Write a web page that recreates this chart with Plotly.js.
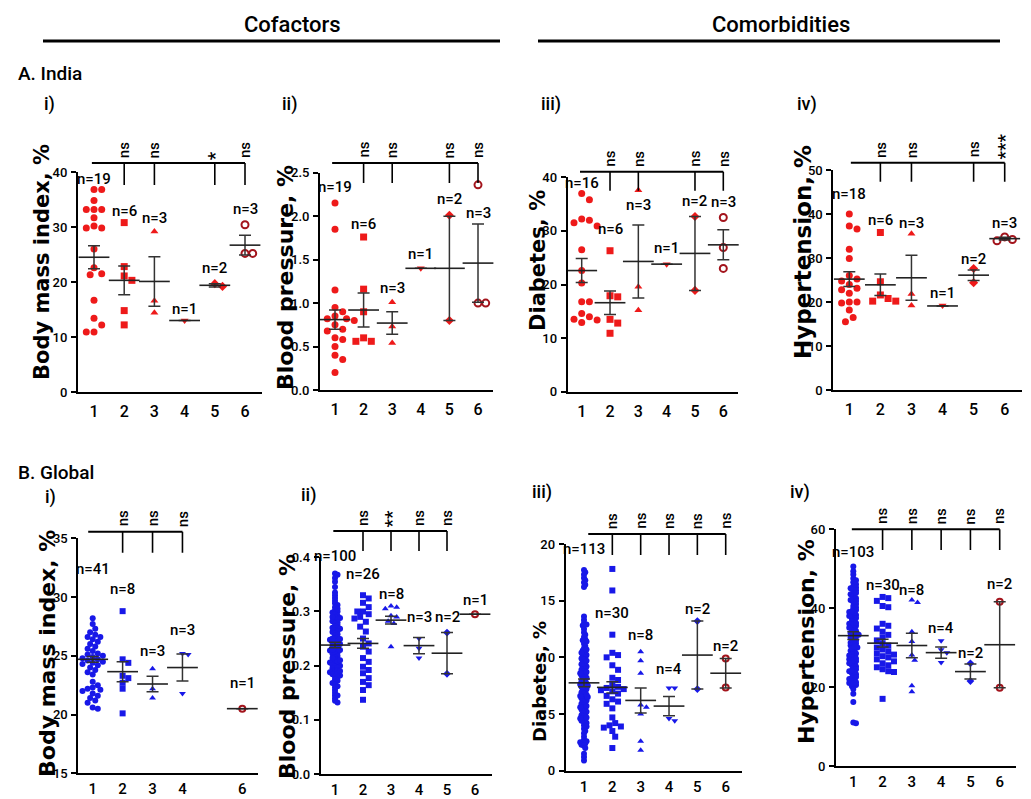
<!DOCTYPE html>
<html><head><meta charset="utf-8">
<script src="https://cdn.plot.ly/plotly-3.0.1.min.js"></script>
<style>html,body{margin:0;padding:0;background:#fff;} #chart{width:1031px;height:799px;}</style>
</head><body><div id="chart"></div>
<script>
// ===================== DATA =====================
const groupNames = ['1', '2', '3', '4', '5', '6'];

// ---- A. India : Body mass index, % ----
const indiaBmiValues = [
  [36.8, 36.8, 34.8, 33.2, 33.2, 33.2, 31.7, 30.2, 29.8, 29.8, 26.0, 22.6, 21.5, 21.3, 16.7, 13.4, 12.2, 10.9, 10.9],
  [30.8, 22.8, 21.1, 20.3, 14.8, 12.2],
  [29.2, 16.6, 14.4],
  [13.0],
  [19.2, 19.7],
  [30.4, 25.2, 25.2]
];
const indiaBmiMean = [24.5, 20.3, 20.1, 13.0, 19.4, 26.7];
const indiaBmiSem  = [2.1, 2.6, 4.5, 0, 0.3, 1.8];
const indiaBmiSig  = ['', 'ns', 'ns', '', '*', 'ns'];

// ---- A. India : Blood pressure, % ----
const indiaBpValues = [
  [2.15, 1.85, 1.15, 0.95, 0.90, 0.85, 0.82, 0.82, 0.80, 0.80, 0.75, 0.70, 0.68, 0.60, 0.58, 0.50, 0.40, 0.35, 0.20],
  [1.76, 1.16, 0.90, 0.60, 0.56, 0.56],
  [1.01, 0.73, 0.54],
  [1.40],
  [2.01, 0.80],
  [2.36, 1.00, 1.00]
];
const indiaBpMean = [0.81, 0.92, 0.77, 1.40, 1.40, 1.46];
const indiaBpSem  = [0.11, 0.195, 0.13, 0, 0.60, 0.45];
const indiaBpSig  = ['', 'ns', 'ns', '', 'ns', 'ns'];

// ---- A. India : Diabetes, % ----
const indiaDmValues = [
  [37.0, 35.8, 32.2, 32.0, 31.5, 30.9, 26.5, 22.6, 20.3, 16.8, 16.8, 14.6, 14.0, 13.5, 13.4, 12.9],
  [26.3, 17.9, 17.7, 13.5, 12.8, 10.9],
  [37.6, 19.6, 15.2],
  [23.8],
  [32.7, 18.9],
  [32.5, 26.9, 23.0]
];
const indiaDmMean = [22.6, 16.6, 24.3, 23.8, 25.8, 27.4];
const indiaDmSem  = [2.25, 2.2, 6.8, 0, 6.9, 2.8];
const indiaDmSig  = ['', 'ns', 'ns', '', 'ns', 'ns'];

// ---- A. India : Hypertension, % ----
const indiaHtValues = [
  [40.0, 37.3, 36.6, 32.0, 29.9, 26.0, 25.2, 24.8, 24.0, 23.1, 22.8, 22.0, 20.0, 20.0, 19.8, 18.2, 16.5, 15.5],
  [35.8, 24.6, 21.6, 20.8, 20.2, 20.2],
  [35.5, 21.8, 19.2],
  [19.2],
  [27.6, 24.4],
  [34.8, 33.9, 34.2]
];
const indiaHtMean = [25.2, 23.9, 25.5, 19.1, 26.1, 34.4];
const indiaHtSem  = [1.7, 2.45, 5.1, 0, 1.2, 0.3];
const indiaHtSig  = ['', 'ns', 'ns', '', 'ns', '***'];

// ---- B. Global : Body mass index, % ----
const globalBmiValues = [
  [28.2, 27.7, 27.3, 27.0, 26.8, 26.6, 26.6, 26.4, 26.2, 26.0, 25.8, 25.6, 25.4, 25.2, 25.1, 25.0, 24.9, 24.8, 24.7, 24.6, 24.5,
   24.4, 24.3, 24.2, 24.0, 23.8, 23.6, 23.4, 22.8, 22.5, 22.3, 22.2, 22.1, 22.0, 21.8, 21.6, 21.4, 21.2, 21.0, 20.6, 20.5],
  [28.8, 24.7, 24.4, 23.3, 23.1, 22.7, 22.2, 20.1],
  [23.9, 22.2, 21.4],
  [25.2, 25.1, 21.8],
  [],
  [20.5]
];
const globalBmiMean = [24.7, 23.65, 22.6, 24.0, null, 20.5];
const globalBmiSem  = [0.25, 0.85, 0.65, 1.15, null, 0];
const globalBmiSig  = ['', 'ns', 'ns', 'ns', '', ''];

// ---- B. Global : Blood pressure, % ----
const globalBpValues = [
  [0.370, 0.368, 0.362, 0.355, 0.345, 0.335, 0.330, 0.325, 0.320, 0.315,
   0.312, 0.308, 0.305, 0.302, 0.300, 0.298, 0.295, 0.292, 0.290, 0.288,
   0.286, 0.284, 0.282, 0.280, 0.278, 0.275, 0.272, 0.270, 0.268, 0.266,
   0.264, 0.262, 0.260, 0.258, 0.255, 0.252, 0.250, 0.248, 0.246, 0.244,
   0.242, 0.240, 0.241, 0.249, 0.238, 0.235, 0.232, 0.230, 0.228, 0.226,
   0.224, 0.222, 0.220, 0.236, 0.229, 0.218, 0.215, 0.212, 0.210, 0.208,
   0.206, 0.204, 0.202, 0.200, 0.214, 0.207, 0.201, 0.198, 0.195, 0.192,
   0.190, 0.188, 0.186, 0.184, 0.182, 0.180, 0.196, 0.191, 0.185, 0.178,
   0.175, 0.172, 0.170, 0.168, 0.165, 0.162, 0.160, 0.155, 0.150, 0.145,
   0.145, 0.140, 0.135, 0.132, 0.290, 0.270, 0.250, 0.230, 0.210, 0.190],
  [0.330, 0.324, 0.316, 0.308, 0.300, 0.300, 0.295, 0.290, 0.287, 0.281, 0.272, 0.263, 0.250,
   0.241, 0.235, 0.226, 0.214, 0.207, 0.198, 0.192, 0.186, 0.177, 0.170, 0.164, 0.155, 0.137],
  [0.310, 0.308, 0.305, 0.292, 0.290, 0.282, 0.278, 0.235],
  [0.250, 0.232, 0.214],
  [0.261, 0.185],
  [0.295]
];
const globalBpMean = [0.238, 0.241, 0.284, 0.237, 0.223, 0.295];
const globalBpSem  = [0.005, 0.009, 0.007, 0.015, 0.038, 0];
const globalBpSig  = ['', 'ns', '**', 'ns', 'ns', ''];

// ---- B. Global : Diabetes, % ----
const globalDmValues = [
  [17.7, 17.5, 17.3, 17.0, 16.8, 16.6, 16.4, 16.2,
   13.6, 13.3, 13.0, 12.8, 12.5, 12.9,
   12.2, 12.0, 11.8, 11.6, 11.4, 11.2, 11.0, 11.5,
   10.8, 10.6, 10.5, 10.3, 10.2, 10.0, 10.1, 10.4, 10.7,
   9.9, 9.8, 9.6, 9.5, 9.3, 9.2, 9.0, 9.1, 9.4, 9.7,
   8.9, 8.8, 8.6, 8.5, 8.3, 8.2, 8.0, 8.4, 8.7, 8.1, 8.6,
   7.9, 7.8, 7.6, 7.5, 7.3, 7.2, 7.0, 7.4, 7.7, 7.1, 7.5, 7.6,
   6.9, 6.8, 6.6, 6.5, 6.3, 6.2, 6.0, 6.4, 6.7, 6.1, 6.5, 6.6,
   5.9, 5.8, 5.6, 5.5, 5.3, 5.2, 5.0, 5.4, 5.7, 5.1, 5.6,
   4.9, 4.8, 4.6, 4.5, 4.3, 4.2, 4.0, 4.4, 4.7, 4.6,
   3.9, 3.7, 3.5, 3.3, 3.0,
   2.7, 2.6, 2.5, 2.5, 2.4, 2.3, 2.2, 2.0,
   1.5, 1.2, 0.9],
  [17.8, 15.9, 12.0, 10.4, 10.2, 10.0, 9.3, 8.9, 8.2, 8.0, 7.6, 7.4, 7.3, 7.2, 7.1,
   7.0, 6.8, 6.6, 6.3, 6.1, 5.9, 5.5, 4.7, 4.2, 4.0, 3.9, 3.8, 3.5, 3.0, 2.0],
  [10.5, 9.7, 8.6, 5.8, 5.6, 5.0, 2.6, 1.8],
  [7.3, 7.3, 4.6, 4.4],
  [13.2, 7.2],
  [9.9, 7.35]
];
const globalDmMean = [7.75, 7.35, 6.2, 5.7, 10.2, 8.6];
const globalDmSem  = [0.35, 0.5, 1.1, 0.85, 3.0, 1.3];
const globalDmSig  = ['', 'ns', 'ns', 'ns', 'ns', 'ns'];

// ---- B. Global : Hypertension, % ----
const globalHtValues = [
  [50.5, 49.3, 48.5, 47.5, 47.0,
   46.5, 46.0, 45.5, 45.2, 44.8, 44.5, 44.0, 45.0,
   43.5, 43.0, 42.5, 42.2, 41.8, 41.5, 41.0, 40.5, 40.2, 43.8, 42.0,
   39.8, 39.5, 39.0, 38.5, 38.2, 37.8, 37.5, 37.2, 38.8, 39.2, 38.0,
   36.8, 36.5, 36.0, 35.5, 35.2, 34.8, 34.5, 34.2, 35.8, 36.2, 35.0,
   33.8, 33.5, 33.0, 32.5, 32.2, 31.8, 31.5, 31.2, 32.8, 33.2, 33.6, 31.0,
   30.8, 30.5, 30.0, 29.5, 29.2, 28.8, 28.5, 28.2, 29.8, 30.2, 28.0,
   27.8, 27.5, 27.0, 26.5, 26.2, 25.8, 25.5, 25.2, 26.8, 27.2, 26.0,
   24.8, 24.5, 24.0, 23.5, 23.2, 22.8, 22.5, 22.2, 23.8, 24.2, 22.0,
   21.8, 21.5, 21.0, 20.5, 20.2, 19.5, 20.8, 21.2,
   18.3, 16.2, 11.0, 10.8],
  [42.8, 42.5, 41.8, 40.5, 40.2, 36.0, 35.5, 34.8, 34.0, 33.2, 32.5, 31.8, 31.0, 30.5, 30.0,
   29.5, 29.0, 28.5, 28.2, 27.8, 27.5, 27.0, 26.5, 26.0, 25.5, 25.0, 24.5, 24.0, 23.8, 17.0],
  [42.0, 41.4, 34.0, 31.5, 28.1, 26.8, 20.3, 18.8],
  [31.7, 29.4, 28.7, 26.2],
  [26.0, 21.5],
  [41.6, 19.8]
];
const globalHtMean = [33.0, 31.1, 30.5, 28.7, 23.9, 30.7];
const globalHtSem  = [1.0, 1.0, 3.1, 1.4, 1.9, 10.9];
const globalHtSig  = ['', 'ns', 'ns', 'ns', 'ns', 'ns'];

// ===================== LAYOUT SPEC (positions in px of the 1031x799 page) =====================
const W = 1031, H = 799;
const LABEL = "Roboto, 'Liberation Sans', sans-serif";
const HEAVY = "'DejaVu Sans', sans-serif";
const RED = '#ee1a1a', BLUE = '#1818e8', DARKRED = '#a3141c';

const panels = [
  {vals: indiaBmiValues, mean: indiaBmiMean, sem: indiaBmiSem, sig: indiaBmiSig, title: 'Body mass index, %', color: RED, ms: 7, spread: 1.1, dense: 1.1,
   y0: 0, y1: 40, dt: 10, fmt: 'd', L: 78, R: 262, T: 172, B: 392, c1: 94, c6: 245,
   brTop: 163, brBot: 185, brFrom: 0.93, tX: 42, tY: 262, tS: 21, nY: [38.8, 33.0, 31.7, 15.0, 22.5, 33.2]},
  {vals: indiaBpValues, mean: indiaBpMean, sem: indiaBpSem, sig: indiaBpSig, title: 'Blood pressure, %', color: RED, ms: 7, spread: 1.1, dense: 1.1,
   y0: 0, y1: 2.5, dt: 0.5, fmt: '.1f', L: 320, R: 493, T: 172.7, B: 390, c1: 335, c6: 478,
   brTop: 163, brBot: 183, brFrom: 0.9, tX: 285, tY: 278, tS: 22, nY: [2.34, 1.91, 1.17, 1.56, 2.20, 2.04]},
  {vals: indiaDmValues, mean: indiaDmMean, sem: indiaDmSem, sig: indiaDmSig, title: 'Diabetes, %', color: RED, ms: 7, spread: 1.1, dense: 1.1,
   y0: 0, y1: 40, dt: 10, fmt: 'd', L: 567.7, R: 738, T: 177.3, B: 391.7, c1: 581.7, c6: 723.3,
   brTop: 171.7, brBot: 190.7, brFrom: 0.94, tX: 538, tY: 261, tS: 21, nY: [38.9, 30.4, 34.8, 26.8, 35.5, 35.3]},
  {vals: indiaHtValues, mean: indiaHtMean, sem: indiaHtSem, sig: indiaHtSig, title: 'Hypertension, %', color: RED, ms: 7, spread: 1.1, dense: 1.1,
   y0: 0, y1: 50, dt: 10, fmt: 'd', L: 833.3, R: 1021.7, T: 170, B: 390, c1: 849.3, c6: 1004.7,
   brTop: 162.7, brBot: 181.7, brFrom: 1.05, tX: 803, tY: 252, tS: 23, nY: [44.5, 38.6, 37.9, 22.0, 29.7, 37.9]},
  {vals: globalBmiValues, mean: globalBmiMean, sem: globalBmiSem, sig: globalBmiSig, title: 'Body mass index, %', color: BLUE, ms: 6, spread: 0.95, dense: 0.85,
   y0: 15, y1: 35, dt: 5, fmt: 'd', L: 78.3, R: 258, T: 538.3, B: 773.3, c1: 92.7, c6: 242.3,
   brTop: 531.7, brBot: 552.7, brFrom: 0.85, tX: 47, tY: 654, tS: 22, nY: [32.4, 30.7, 25.4, 27.2, null, 22.7]},
  {vals: globalBpValues, mean: globalBpMean, sem: globalBpSem, sig: globalBpSig, title: 'Blood pressure, %', color: BLUE, ms: 6, spread: 0.95, dense: 0.42,
   y0: 0, y1: 0.4, dt: 0.1, fmt: '.1f', L: 320.7, R: 491.7, T: 557.3, B: 774, c1: 335, c6: 475,
   brTop: 531, brBot: 551, brFrom: 0.94, tX: 287, tY: 667, tS: 22, nY: [0.402, 0.369, 0.332, 0.29, 0.29, 0.321]},
  {vals: globalDmValues, mean: globalDmMean, sem: globalDmSem, sig: globalDmSig, title: 'Diabetes, %', color: BLUE, ms: 6, spread: 0.95, dense: 0.42,
   y0: 0, y1: 20, dt: 5, fmt: 'd', L: 565.7, R: 741.7, T: 544, B: 770.7, c1: 584, c6: 725.7,
   brTop: 534, brBot: 555, brFrom: 1.15, tX: 539, tY: 682, tS: 18, nY: [19.6, 13.9, 12.0, 9.0, 14.3, 11.0]},
  {vals: globalHtValues, mean: globalHtMean, sem: globalHtSem, sig: globalHtSig, title: 'Hypertension, %', color: BLUE, ms: 6, spread: 0.95, dense: 0.45,
   y0: 0, y1: 60, dt: 20, fmt: 'd', L: 836, R: 1016, T: 529, B: 766, c1: 853.3, c6: 999.7,
   brTop: 529.3, brBot: 550, brFrom: 0.95, tX: 806, tY: 642, tS: 22, nY: [54.3, 45.8, 44.6, 34.9, 28.7, 46.2]}
];

const symbols = ['circle', 'square', 'triangle-up', 'triangle-down', 'diamond', 'circle-open'];

function px2x(p) { return p / W; }
function px2y(p) { return 1 - p / H; }

// simple beeswarm: horizontal offsets so that markers do not overlap too much
function swarmOffsets(vals, pxPerY, pxPerX, dist) {
  const idx = vals.map((_, i) => i).sort((a, b) => vals[b] - vals[a]);
  const placed = [];
  const off = new Array(vals.length).fill(0);
  const step = dist / 2;
  idx.forEach(i => {
    const py = vals[i] * pxPerY;
    for (let k = 0; k < 400; k++) {
      const m = Math.ceil(k / 2) * (k % 2 === 1 ? 1 : -1);
      const dx = m * step;
      let ok = true;
      for (const p of placed) {
        const a = p.dx - dx, b = p.py - py;
        if (a * a + b * b < dist * dist) { ok = false; break; }
      }
      if (ok) { placed.push({dx: dx, py: py}); off[i] = dx / pxPerX; break; }
    }
  });
  return off;
}

const traces = [];
const layout = {
  width: W, height: H, margin: {l: 0, r: 0, t: 0, b: 0},
  paper_bgcolor: '#fff', plot_bgcolor: 'rgba(0,0,0,0)', showlegend: false, hovermode: false,
  annotations: [], shapes: []
};

panels.forEach((p, k) => {
  const n = k + 1;
  const xa = 'x' + (n === 1 ? '' : n), ya = 'y' + (n === 1 ? '' : n);
  const step = (p.c6 - p.c1) / 5;
  const xr = [1 - (p.c1 - p.L) / step, 6 + (p.R - p.c6) / step];
  const pxPerY = (p.B - p.T) / (p.y1 - p.y0);
  const bottomRow = k >= 4;
  const present = [];
  p.vals.forEach((v, g) => {
    if (!v.length) return;
    present.push(g + 1);
    const f = v.length > 35 ? p.dense : p.spread;
    const off = swarmOffsets(v, pxPerY, step, p.ms * f);
    const open = g === 5;
    traces.push({
      type: 'scatter', mode: 'markers', xaxis: xa, yaxis: ya, cliponaxis: false,
      x: v.map((_, i) => g + 1 + off[i]), y: v,
      marker: {
        symbol: symbols[g], size: p.ms,
        color: open ? DARKRED : p.color,
        line: {width: open ? 2 : 0, color: open ? DARKRED : p.color}
      }
    });
  });
  // mean +/- SEM
  const mx = [], my = [], ms = [];
  p.mean.forEach((m, g) => { if (m !== null) { mx.push(g + 1); my.push(m); ms.push(p.sem[g]); } });
  traces.push({
    type: 'scatter', mode: 'markers', xaxis: xa, yaxis: ya, cliponaxis: false,
    x: mx, y: my,
    marker: {symbol: 'line-ew-open', size: 22, color: '#222', line: {width: 1.6, color: '#222'}},
    error_y: {type: 'data', array: ms, visible: true, width: 6, thickness: 1.5, color: '#333'}
  });

  layout['xaxis' + (n === 1 ? '' : n)] = {
    domain: [px2x(p.L), px2x(p.R)], range: xr, anchor: ya,
    showline: true, linewidth: 2, linecolor: '#000', ticks: '', showgrid: false, zeroline: false,
    tickvals: present, ticktext: present.map(g => groupNames[g - 1]),
    tickfont: {family: LABEL, size: bottomRow ? 15 : 16, weight: 500, color: '#000'},
    ticklabelstandoff: bottomRow ? 1 : 4, fixedrange: true
  };
  layout['yaxis' + (n === 1 ? '' : n)] = {
    domain: [px2y(p.B), px2y(p.T)], range: [p.y0, p.y1], anchor: xa,
    showline: true, linewidth: 2, linecolor: '#000', ticks: 'outside', ticklen: 5, tickwidth: 2, tickcolor: '#000',
    showgrid: false, zeroline: false, tick0: p.y0, dtick: p.dt, tickformat: p.fmt,
    tickfont: {family: LABEL, size: 13, weight: 500, color: '#000'}, ticklabelstandoff: 1, fixedrange: true
  };

  // y title
  layout.annotations.push({
    xref: 'paper', yref: 'paper', x: px2x(p.tX), y: px2y(p.tY), text: p.title, textangle: -90, showarrow: false,
    xanchor: 'center', yanchor: 'middle', font: {family: HEAVY, size: p.tS, weight: 'bold', color: '#000'}
  });

  // n= labels (vertical position given in data units, converted to page position so they may sit above the axis top)
  p.vals.forEach((v, g) => {
    if (!v.length || p.nY[g] === null) return;
    const ypx = p.B - (p.nY[g] - p.y0) * pxPerY;
    layout.annotations.push({
      xref: xa, yref: 'paper', x: g + 1, y: px2y(ypx), text: 'n=' + v.length, showarrow: false,
      xanchor: 'center', yanchor: 'middle', font: {family: LABEL, size: 15, weight: 500, color: '#000'}
    });
  });

  // significance bracket
  const comp = [];
  p.sig.forEach((s, g) => { if (s) comp.push(g + 1); });
  const last = Math.max.apply(null, comp);
  layout.shapes.push({type: 'line', xref: xa, yref: 'paper', x0: p.brFrom, x1: last, y0: px2y(p.brTop), y1: px2y(p.brTop),
    line: {color: '#000', width: 2}});
  comp.forEach(g => {
    const star = p.sig[g - 1].indexOf('*') >= 0;
    layout.shapes.push({type: 'line', xref: xa, yref: 'paper', x0: g, x1: g, y0: px2y(p.brTop), y1: px2y(p.brBot),
      line: {color: '#000', width: 1.6}});
    layout.annotations.push({
      xref: xa, yref: 'paper', x: g, y: px2y(p.brTop - (star ? 1 : 3)), text: p.sig[g - 1], textangle: -90, showarrow: false,
      xanchor: 'center', yanchor: 'bottom', font: {family: LABEL, size: star ? 19 : 15, weight: 500, color: '#000'}
    });
  });
});

// headers and panel labels
const textItems = [
  {t: 'Cofactors', x: 292, y: 24, s: 22, a: 'center'},
  {t: 'Comorbidities', x: 781, y: 24, s: 22, a: 'center'},
  {t: 'A. India', x: 16, y: 73, s: 19, a: 'left'},
  {t: 'B. Global', x: 16, y: 472, s: 19, a: 'left'},
  {t: 'i)', x: 42, y: 104, s: 18, a: 'left'},
  {t: 'ii)', x: 280, y: 104, s: 18, a: 'left'},
  {t: 'iii)', x: 539, y: 104, s: 18, a: 'left'},
  {t: 'iv)', x: 795, y: 104, s: 18, a: 'left'},
  {t: 'i)', x: 43, y: 497, s: 18, a: 'left'},
  {t: 'ii)', x: 299, y: 495, s: 18, a: 'left'},
  {t: 'iii)', x: 530, y: 492, s: 18, a: 'left'},
  {t: 'iv)', x: 788, y: 492, s: 18, a: 'left'}
];
textItems.forEach(o => layout.annotations.push({
  xref: 'paper', yref: 'paper', x: px2x(o.x), y: px2y(o.y), text: o.t, showarrow: false,
  xanchor: o.a, yanchor: 'middle', font: {family: LABEL, size: o.s, weight: 500, color: '#000'}
}));
[[43, 500], [538, 1000]].forEach(r => layout.shapes.push({
  type: 'line', xref: 'paper', yref: 'paper', x0: px2x(r[0]), x1: px2x(r[1]), y0: px2y(41), y1: px2y(41),
  line: {color: '#000', width: 3}
}));

Plotly.newPlot('chart', traces, layout, {staticPlot: true, displayModeBar: false});
</script>
</body></html>
